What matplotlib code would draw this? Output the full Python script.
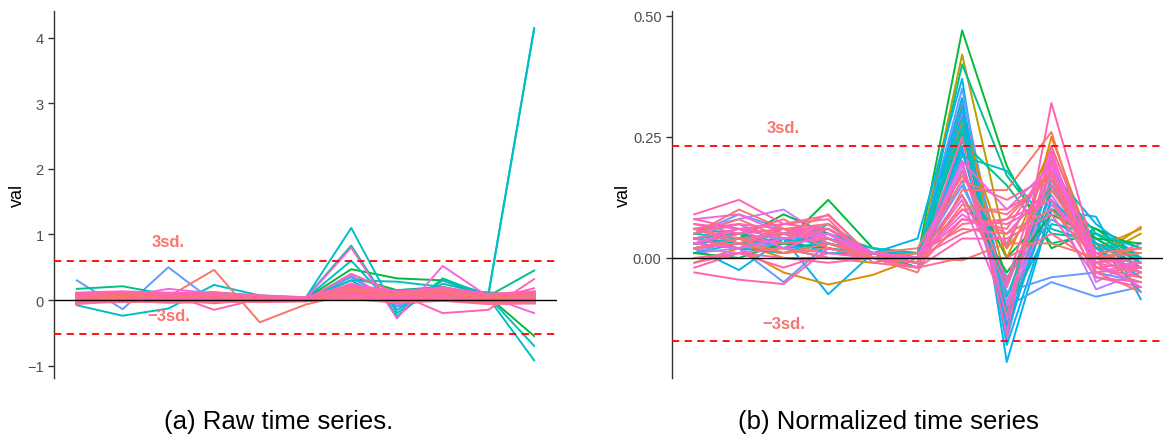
import numpy as np
import matplotlib
matplotlib.use("Agg")
import matplotlib.pyplot as plt

plt.rcParams['font.family'] = ['Liberation Sans', 'DejaVu Sans']

# time index
t = np.arange(1, 12)

# ggplot-like hue colours
SAL = "#F8766D"
ORA = "#DE8C00"
OLI = "#B79F00"
GRN = "#00BA38"
TEA = "#00C08B"
CYA = "#00BFC4"
SKY = "#00B4F0"
BLU = "#619CFF"
PUR = "#C77CFF"
MAG = "#F564E3"
PNK = "#FF64B0"
ROS = "#FF6C91"

# ---- raw series (panel a)
raw_colors = [GRN, OLI, ORA, SKY, PUR, BLU, TEA, GRN, CYA, CYA, CYA, CYA, SAL, MAG, PNK, PNK]
raw_vals = [
    [0.04, 0.06, 0.05, 0.03, 0.02, 0.02, 0.35, 0.15, 0.20, 0.05, 0.10],
    [0.03, 0.04, 0.05, 0.04, 0.02, 0.02, 0.20, 0.05, 0.15, 0.12, 0.05],
    [0.02, 0.03, 0.02, -0.05, 0.01, 0.00, 0.25, -0.05, 0.10, 0.02, 0.08],
    [0.06, 0.08, 0.04, 0.05, 0.03, 0.01, 0.30, -0.10, 0.12, 0.02, -0.05],
    [0.01, 0.02, 0.03, 0.02, 0.01, 0.00, 0.38, -0.08, 0.08, 0.04, 0.02],
    [0.30, -0.14, 0.50, -0.03, 0.05, 0.02, 0.35, -0.10, 0.05, 0.10, 0.05],
    [0.17, 0.21, 0.08, 0.12, 0.06, 0.03, 0.83, -0.25, 0.33, 0.06, 0.45],
    [0.10, 0.08, 0.05, 0.06, 0.03, 0.02, 0.47, 0.33, 0.30, 0.05, -0.55],
    [0.02, 0.03, 0.05, 0.00, 0.04, 0.02, 0.30, 0.28, 0.20, 0.05, -0.70],
    [0.03, 0.05, 0.04, 0.02, 0.03, 0.02, 0.20, 0.15, 0.18, 0.03, -0.92],
    [-0.08, -0.24, -0.13, 0.23, 0.07, 0.03, 1.10, -0.20, 0.30, 0.09, 4.15],
    [0.04, 0.02, 0.03, 0.05, 0.03, 0.02, 0.60, -0.15, 0.25, 0.08, 4.13],
    [0.05, 0.10, 0.05, 0.46, -0.34, -0.07, 0.10, 0.05, 0.20, -0.05, 0.10],
    [0.10, 0.05, 0.17, 0.10, 0.05, 0.02, 0.80, -0.28, 0.52, 0.05, -0.20],
    [0.02, 0.05, 0.10, -0.15, 0.02, 0.00, 0.40, 0.10, -0.20, -0.15, 0.32],
    [0.05, 0.03, 0.07, 0.05, 0.02, 0.01, 0.25, 0.05, 0.10, 0.00, 0.18],
]
# dense pink band on top
band_colors = [ROS, PNK, SAL, ROS, PNK, SAL, ROS, PNK]
band_vals = [
    [0.05, 0.07, 0.06, 0.05, 0.04, 0.02, 0.12, 0.06, 0.10, 0.04, 0.05],
    [0.00, 0.02, 0.03, 0.02, 0.00, 0.00, 0.08, 0.02, 0.06, 0.00, 0.02],
    [0.08, 0.10, 0.09, 0.08, 0.05, 0.03, 0.18, 0.10, 0.15, 0.06, 0.10],
    [-0.03, -0.02, -0.01, 0.00, -0.02, -0.01, 0.05, 0.00, 0.03, -0.03, -0.02],
    [0.03, 0.05, 0.04, 0.03, 0.02, 0.01, 0.10, 0.04, 0.08, 0.02, 0.03],
    [0.06, 0.04, 0.08, 0.06, 0.03, 0.02, 0.15, 0.08, 0.12, 0.03, 0.07],
    [-0.05, 0.00, -0.03, -0.02, -0.01, 0.00, 0.03, -0.03, 0.00, -0.05, -0.04],
    [0.10, 0.12, 0.10, 0.10, 0.06, 0.03, 0.22, 0.12, 0.18, 0.08, 0.12],
]
raw_sd = [0.60, -0.52]

# ---- normalized series (panel b)
norm_colors = [GRN, OLI, TEA, SKY, ORA, OLI, BLU, PUR, MAG, TEA, SKY, GRN, BLU,
               PUR, MAG, PUR, SKY, ORA, MAG, TEA, CYA, SKY, BLU, PUR, SKY, GRN, CYA,
               PNK, SAL, PNK, CYA, PNK, ROS, SAL, ROS, SAL, PNK, ROS, PNK,
               PNK, ROS, SAL, MAG, PNK, ROS, PNK, SAL, MAG]
norm_vals = [
    [0.05, 0.07, 0.03, 0.12, 0.02, 0.00, 0.47, 0.19, 0.02, 0.06, 0.00],
    [0.03, 0.05, 0.02, 0.00, 0.00, -0.01, 0.42, 0.02, 0.23, 0.00, 0.05],
    [0.04, 0.06, 0.04, 0.03, 0.01, -0.02, 0.40, 0.17, 0.05, 0.04, -0.02],
    [0.02, -0.025, 0.04, -0.075, 0.01, 0.04, 0.37, -0.215, 0.10, 0.085, -0.085],
    [-0.01, 0.02, -0.03, -0.055, -0.035, 0.00, 0.32, -0.10, 0.25, 0.00, 0.064],
    [0.03, 0.04, 0.01, 0.02, 0.00, -0.01, 0.30, -0.05, 0.15, 0.02, 0.01],
    [0.05, 0.09, 0.06, 0.05, 0.01, 0.00, 0.35, -0.10, -0.05, -0.08, -0.06],
    [0.06, 0.08, 0.10, 0.04, 0.01, -0.01, 0.28, -0.15, 0.12, -0.065, -0.03],
    [0.02, 0.03, 0.05, 0.06, 0.00, -0.01, 0.33, -0.17, 0.20, -0.02, -0.04],
    [0.03, 0.02, 0.01, 0.03, 0.01, -0.01, 0.24, 0.15, 0.03, 0.05, 0.00],
    [0.06, 0.05, 0.02, 0.03, 0.01, 0.00, 0.33, -0.18, 0.10, 0.03, -0.07],
    [0.02, 0.04, 0.09, 0.05, 0.01, -0.02, 0.18, 0.00, 0.10, 0.06, 0.02],
    [0.04, 0.02, -0.05, 0.03, 0.00, 0.00, 0.15, -0.04, 0.08, 0.02, -0.03],
    [0.05, 0.07, 0.03, 0.06, 0.01, 0.00, 0.20, -0.13, 0.17, -0.05, 0.00],
    [0.07, 0.06, 0.04, 0.05, 0.00, -0.01, 0.30, -0.14, 0.19, 0.03, -0.02],
    [0.01, 0.02, 0.02, 0.01, 0.00, 0.01, 0.22, -0.09, 0.13, 0.00, -0.02],
    [0.03, 0.05, 0.03, 0.04, 0.02, 0.01, 0.22, -0.06, 0.18, 0.07, 0.00],
    [0.02, 0.03, 0.00, 0.00, -0.01, 0.01, 0.28, 0.00, 0.20, 0.02, 0.06],
    [0.08, 0.09, 0.05, 0.07, 0.01, 0.00, 0.12, -0.11, 0.21, -0.01, 0.03],
    [0.04, 0.05, 0.03, 0.02, 0.01, 0.00, 0.26, -0.12, 0.14, 0.04, -0.01],
    [0.01, 0.03, 0.02, 0.07, 0.01, 0.01, 0.27, -0.08, 0.16, 0.05, -0.01],
    [0.03, 0.04, 0.05, 0.02, 0.00, 0.00, 0.31, -0.16, 0.15, 0.02, -0.04],
    [0.01, 0.04, 0.02, 0.00, 0.00, 0.00, 0.16, -0.07, -0.04, -0.03, -0.05],
    [0.02, 0.01, 0.05, 0.03, 0.00, -0.01, 0.19, -0.10, 0.11, 0.01, -0.03],
    [0.04, 0.03, 0.04, 0.01, 0.01, 0.00, 0.23, -0.14, 0.12, 0.03, -0.02],
    [0.01, 0.00, 0.03, 0.02, 0.00, 0.00, 0.13, -0.03, 0.09, 0.04, 0.03],
    [0.05, 0.04, 0.03, 0.05, 0.02, 0.01, 0.29, -0.11, 0.07, 0.05, 0.02],
    [0.09, 0.12, 0.07, 0.08, -0.01, -0.02, 0.25, -0.16, 0.32, 0.00, -0.02],
    [0.06, 0.04, 0.05, 0.09, 0.00, -0.03, 0.14, 0.14, 0.26, -0.03, -0.07],
    [-0.03, -0.045, -0.054, 0.02, 0.00, 0.00, 0.20, -0.12, 0.22, -0.04, -0.05],
    [0.03, 0.02, 0.01, 0.04, 0.00, 0.00, 0.21, 0.18, 0.06, 0.03, 0.00],
    [0.03, 0.05, 0.06, 0.04, 0.00, 0.00, 0.10, 0.05, 0.15, -0.02, -0.01],
    [0.04, 0.02, 0.07, 0.088, 0.00, -0.02, 0.08, 0.07, 0.12, -0.03, -0.02],
    [0.02, 0.03, 0.01, 0.02, 0.00, 0.01, 0.06, 0.05, 0.10, 0.00, 0.01],
    [-0.01, 0.01, 0.02, 0.00, 0.00, -0.02, 0.00, 0.00, 0.05, -0.01, 0.00],
    [0.05, 0.08, 0.04, 0.06, 0.01, 0.02, 0.17, 0.02, 0.14, 0.01, 0.02],
    [0.04, 0.06, 0.05, 0.05, 0.00, 0.00, 0.13, -0.06, 0.18, 0.00, -0.04],
    [0.02, 0.04, 0.03, 0.04, 0.01, 0.00, 0.10, 0.10, 0.16, -0.01, 0.00],
    [0.06, 0.07, 0.06, 0.06, 0.01, 0.00, 0.08, 0.06, 0.20, 0.01, -0.03],
    [0.00, 0.01, -0.02, 0.01, 0.00, 0.00, 0.05, 0.08, 0.12, 0.00, -0.02],
    [0.07, 0.05, 0.08, 0.03, 0.01, -0.01, 0.07, 0.08, 0.18, -0.02, -0.04],
    [0.05, 0.10, 0.06, 0.07, 0.00, -0.01, 0.11, 0.09, 0.17, -0.02, -0.05],
    [0.03, 0.06, 0.02, 0.05, 0.00, 0.00, 0.09, 0.03, 0.21, -0.03, -0.01],
    [-0.02, 0.01, 0.00, -0.01, 0.00, -0.02, 0.04, 0.04, 0.09, -0.04, -0.06],
    [0.06, 0.03, 0.06, 0.02, 0.00, 0.00, 0.16, 0.12, 0.17, -0.01, -0.03],
    [0.08, 0.06, 0.07, 0.06, 0.01, -0.01, 0.18, -0.05, 0.23, 0.00, -0.01],
    [0.02, 0.04, 0.01, 0.03, 0.00, 0.00, -0.005, 0.03, 0.03, 0.00, 0.02],
    [0.03, 0.02, 0.04, 0.05, 0.01, 0.00, 0.20, 0.10, 0.19, -0.01, -0.06],
]
norm_sd = [0.231, -0.171]

fig = plt.figure(figsize=(11.63, 4.35), dpi=100)
ax1 = fig.add_axes([54/1163, 56/435, 503/1163, 367/435])
ax2 = fig.add_axes([672/1163, 56/435, 491/1163, 367/435])


def style(ax, ylim, ticks, labels):
    ax.set_xlim(0.5, 11.5)
    ax.set_ylim(*ylim)
    for s in ['top', 'right', 'bottom']:
        ax.spines[s].set_visible(False)
    ax.spines['left'].set_color('#333333')
    ax.spines['left'].set_linewidth(1.0)
    ax.set_xticks([])
    ax.set_yticks(ticks)
    ax.set_yticklabels(labels)
    ax.tick_params(axis='y', colors='#333333', labelcolor='#4D4D4D',
                   labelsize=10.5, length=4, width=1.0)
    ax.set_ylabel('val', fontsize=13, labelpad=1)


for c, v in zip(raw_colors, raw_vals):
    ax1.plot(t, v, color=c, lw=1.4)
for c, v in zip(band_colors, band_vals):
    ax1.plot(t, v, color=c, lw=2.6)
for c, v in zip(norm_colors, norm_vals):
    ax2.plot(t, v, color=c, lw=1.4)

for ax, sd in [(ax1, raw_sd), (ax2, norm_sd)]:
    ax.axhline(0, color='black', lw=1.0, zorder=5)
    for y in sd:
        ax.axhline(y, color='red', lw=1.3, ls=(0, (4, 3)), zorder=6)

style(ax1, (-1.19, 4.41), [-1, 0, 1, 2, 3, 4], ['\u22121', '0', '1', '2', '3', '4'])
style(ax2, (-0.248, 0.51), [0.0, 0.25, 0.5], ['0.00', '0.25', '0.50'])

lab = dict(color=SAL, fontsize=12, fontweight='bold', ha='center', va='center', zorder=7)
ax1.text(3, 0.89, '3sd.', **lab)
ax1.text(3, -0.23, '\u22123sd.', **lab)
ax2.text(3, 0.27, '3sd.', **lab)
ax2.text(3, -0.136, '\u22123sd.', **lab)

fig.text(279/1163, 1 - 422/435, '(a) Raw time series.', fontsize=18.5, ha='center', va='center')
fig.text(888/1163, 1 - 422/435, '(b) Normalized time series', fontsize=18.5, ha='center', va='center')

fig.savefig('out.png', dpi=100)
